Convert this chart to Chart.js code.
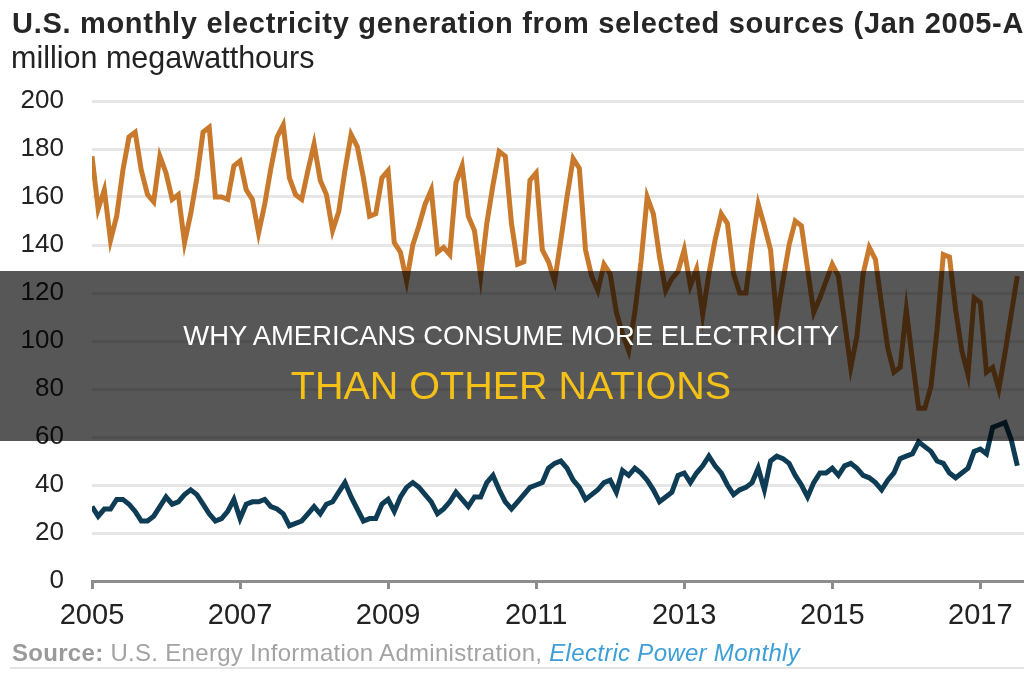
<!doctype html>
<html lang="en">
  <head>
    <meta charset="UTF-8" />
    <title>U.S. monthly electricity generation</title>
    <script src="https://cdn.jsdelivr.net/npm/chart.js"></script>
    <style>
      html, body {
        margin: 0;
        padding: 0;
        width: 1024px;
        height: 680px;
        overflow: hidden;
        background: #fff;
        font-family: "Liberation Sans", Arial, sans-serif;
      }
      .title {
        position: absolute;
        left: 12px;
        top: 9px;
        font-size: 29px;
        line-height: 29px;
        letter-spacing: 0.7px;
        font-weight: bold;
        color: #262626;
        white-space: nowrap;
      }
      .units {
        position: absolute;
        left: 11px;
        top: 42px;
        font-size: 30.5px;
        line-height: 31px;
        color: #222;
        white-space: nowrap;
      }
      .chart-box {
        position: absolute;
        left: 0;
        top: 0;
        width: 1042px;
        height: 680px;
      }
      .source {
        position: absolute;
        left: 12px;
        top: 641px;
        font-size: 24px;
        line-height: 24px;
        letter-spacing: 0.3px;
        color: #a3a3a3;
        white-space: nowrap;
      }
      .source b { color: #9a9a9a; }
      .source i { color: #3d9fd6; }
      .rule {
        position: absolute;
        left: 10px;
        right: 0;
        top: 667px;
        height: 2px;
        background: #e4e4e4;
      }
      .banner {
        position: absolute;
        left: 0;
        top: 271px;
        width: 1024px;
        height: 170px;
        background: rgba(0, 0, 0, 0.66);
      }
      .banner div {
        position: absolute;
        left: 0;
        width: 1022px;
        text-align: center;
        white-space: nowrap;
      }
      .banner .l1 {
        top: 51px;
        font-size: 27.4px;
        line-height: 28px;
        color: #fff;
      }
      .banner .l2 {
        top: 94px;
        font-size: 39.5px;
        line-height: 40px;
        color: #f5c117;
      }
    </style>
  </head>
  <body>
    <div class="chart-box"><canvas id="genChart"></canvas></div>
    <div class="title">U.S. monthly electricity generation from selected sources (Jan 2005-Aug 2017)</div>
    <div class="units">million megawatthours</div>
    <div class="source"><b>Source:</b> U.S. Energy Information Administration, <i>Electric Power Monthly</i></div>
    <div class="rule"></div>
    <div class="banner">
      <div class="l1">WHY AMERICANS CONSUME MORE ELECTRICITY</div>
      <div class="l2">THAN OTHER NATIONS</div>
    </div>

    <script>
      // monthly values, Jan 2005 onwards (million MWh)
      const coal = [
        177, 155, 163, 142, 152, 171, 185, 187, 171, 161, 158, 177,
        170, 159, 161, 141, 153, 168, 187, 189, 160, 160, 159, 173,
        175, 163, 159, 145, 157, 172, 185, 190, 168, 161, 159, 171,
        182, 167, 161, 146, 154, 171, 186, 181, 168, 152, 153, 168,
        171, 141, 137, 125, 140, 148, 157, 163, 137, 139, 136, 166,
        173, 152, 146, 127, 149, 165, 179, 177, 149, 132, 133, 167,
        170, 138, 133, 125, 142, 160, 176, 172, 138, 127, 121, 132,
        128, 112, 103, 96, 112, 133, 160, 153, 135, 121, 126, 129,
        138, 123, 130, 111, 128, 142, 153, 149, 128, 120, 120, 140,
        157, 148, 138, 109, 125, 140, 150, 148, 130, 112, 118, 125,
        132, 127, 108, 89, 102, 128, 139, 134, 115, 97, 87, 89,
        113, 92, 72, 72, 81, 105, 136, 135, 113, 96, 86, 118,
        116, 87, 89, 80, 95, 111, 127,
      ];
      const renewables = [
        31, 27, 30, 30, 34, 34, 32, 29, 25, 25, 27, 31,
        35, 32, 33, 36, 38, 36, 32, 28, 25, 26, 29, 34,
        26, 32, 33, 33, 34, 31, 30, 28, 23, 24, 25, 28,
        31, 28, 32, 33, 37, 41, 35, 30, 25, 26, 26, 32,
        34, 29, 35, 39, 41, 39, 36, 33, 28, 30, 33, 37,
        34, 31, 35, 35, 41, 44, 38, 33, 30, 33, 36, 39,
        40, 41, 47, 49, 50, 47, 42, 39, 34, 36, 38, 41,
        42, 37, 46, 44, 47, 45, 42, 38, 33, 35, 37, 44,
        45, 41, 45, 48, 52, 48, 45, 40, 36, 38, 39, 41,
        47, 38, 50, 52, 51, 49, 44, 40, 35, 41, 45, 45,
        47, 44, 48, 49, 47, 44, 43, 41, 38, 42, 45, 51,
        52, 53, 58, 56, 54, 50, 49, 45, 43, 45, 47, 54,
        55, 53, 64, 65, 66, 59, 48,
      ];
      const yearLabels = ["2005", "2007", "2009", "2011", "2013", "2015", "2017"];
      const monthsPerLabel = 24;

      const toPoints = (arr) => arr.map((v, i) => ({ x: i, y: v }));

      const ctx = document.getElementById("genChart").getContext("2d");
      new Chart(ctx, {
        type: "line",
        data: {
          datasets: [
            {
              label: "Coal",
              data: toPoints(coal),
              borderColor: "#c9792b",
              borderWidth: 5,
              pointRadius: 0,
              tension: 0,
            },
            {
              label: "Renewables",
              data: toPoints(renewables),
              borderColor: "#0e3c55",
              borderWidth: 5,
              pointRadius: 0,
              tension: 0,
            },
          ],
        },
        options: {
          responsive: true,
          maintainAspectRatio: false,
          animation: false,
          layout: { padding: { top: 101, left: 0, right: 0, bottom: 47 } },
          plugins: {
            legend: { display: false },
            tooltip: { enabled: false },
          },
          scales: {
            x: {
              type: "linear",
              min: 0,
              max: 154,
              afterFit: (scale) => {
                scale.height = 52;
              },
              border: { display: true, color: "#8c8c8c", width: 3 },
              grid: {
                drawOnChartArea: false,
                drawTicks: true,
                tickLength: 8,
                color: "#8c8c8c",
                lineWidth: 3,
              },
              ticks: {
                stepSize: monthsPerLabel,
                includeBounds: false,
                autoSkip: false,
                maxRotation: 0,
                padding: 10,
                color: "#222",
                font: { family: "Liberation Sans", size: 29 },
                callback: (v) => yearLabels[v / monthsPerLabel] || "",
              },
            },
            y: {
              min: 0,
              max: 200,
              afterFit: (scale) => {
                scale.width = 92;
              },
              border: { display: false },
              grid: { color: "#e6e6e6", lineWidth: 3, drawTicks: false },
              ticks: {
                stepSize: 20,
                padding: 28,
                color: "#222",
                font: { family: "Liberation Sans", size: 26 },
              },
            },
          },
        },
      });
    </script>
  </body>
</html>
